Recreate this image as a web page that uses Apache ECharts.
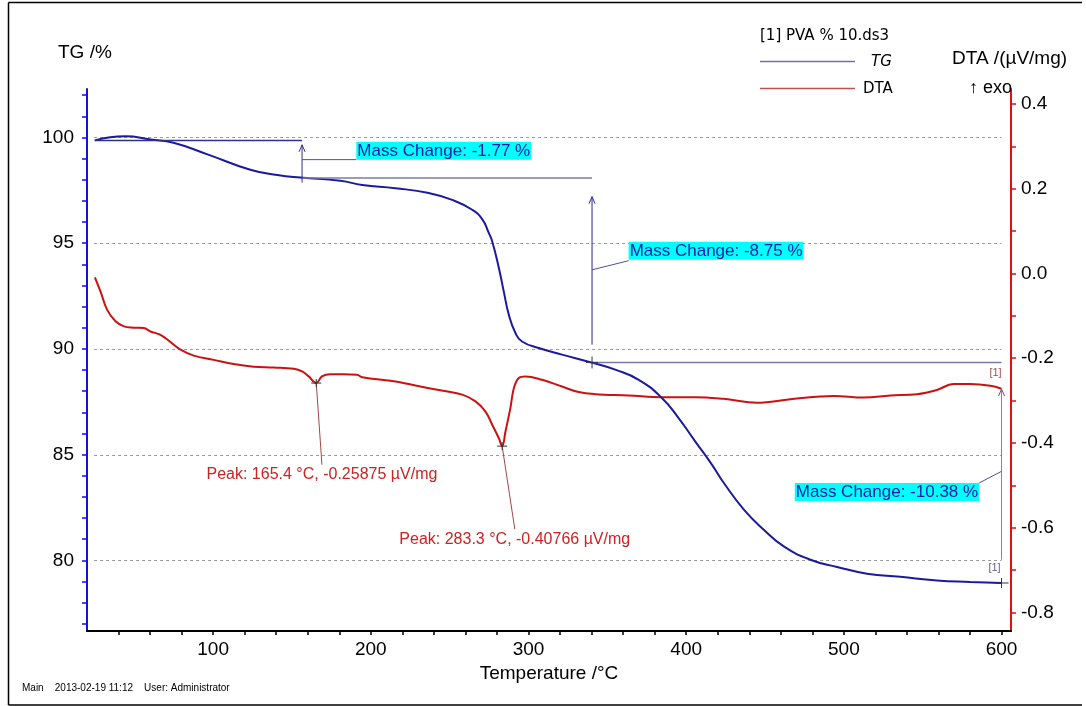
<!DOCTYPE html>
<html>
<head>
<meta charset="utf-8">
<title>TG / DTA</title>
<style>
  html, body { margin: 0; padding: 0; background: #fff; }
  #chart { width: 1086px; height: 706px; }
</style>
<script src="https://cdn.jsdelivr.net/npm/echarts@6/dist/echarts.min.js"></script>
</head>
<body>
<div id="chart"></div>
<script>
// TG curve (temperature in °C, mass in %)
const tgTemp = [24.9, 44.4, 60.3, 74.8, 96.4, 123.6, 140.8, 155.3, 180.7, 194.6, 215.5, 236.8, 251.6, 264.3, 270.5, 274.8, 277, 281.2, 284.3, 287.5, 291.7, 295.9, 306.5, 321.3, 339.8, 355, 369.9, 384.6, 395.2, 405.7, 416.3, 423.9, 436.6, 449.2, 461.9, 478.8, 495.7, 514.7, 535.8, 559, 580.2, 600];
const tgValue = [99.86, 100.05, 99.9, 99.75, 99.2, 98.47, 98.22, 98.1, 97.95, 97.75, 97.6, 97.37, 97.05, 96.58, 96.15, 95.49, 95.08, 93.83, 92.72, 91.62, 90.75, 90.35, 90.04, 89.73, 89.36, 89.02, 88.54, 87.68, 86.73, 85.63, 84.53, 83.66, 82.4, 81.45, 80.66, 80.03, 79.69, 79.37, 79.22, 79.05, 78.98, 78.93];

// DTA curve (µV/mg)
const dtaTemp = [25, 28.6, 32.8, 38.1, 43.4, 49.7, 56, 60.3, 66.6, 73, 79.3, 87.7, 100.4, 113, 125.7, 138.4, 151.1, 156.4, 160.6, 165.4, 169, 174.3, 182.7, 191.2, 194.6, 215.7, 236.8, 257.9, 266.4, 272.7, 277, 281.2, 283.3, 285.4, 288.5, 290.7, 293.8, 298, 308.6, 321.3, 331.8, 342.4, 363.5, 384.6, 405.7, 423.7, 445, 466.1, 493.6, 512.6, 529.5, 546.4, 559, 569.6, 580.2, 592.9, 600];
const dtaValue = [-0.009, -0.043, -0.086, -0.113, -0.125, -0.128, -0.129, -0.137, -0.145, -0.162, -0.18, -0.194, -0.204, -0.214, -0.22, -0.222, -0.225, -0.231, -0.243, -0.25875, -0.243, -0.238, -0.238, -0.239, -0.245, -0.255, -0.271, -0.286, -0.302, -0.326, -0.357, -0.389, -0.40766, -0.373, -0.318, -0.271, -0.247, -0.243, -0.251, -0.267, -0.28, -0.285, -0.288, -0.292, -0.292, -0.296, -0.305, -0.297, -0.289, -0.293, -0.288, -0.285, -0.275, -0.261, -0.261, -0.265, -0.272];

// ticks and labels
const xTicks = [100, 200, 300, 400, 500, 600];
const xMinor = [40, 60, 80, 100, 120, 140, 160, 180, 200, 220, 240, 260, 280, 300, 320, 340, 360, 380, 400, 420, 440, 460, 480, 500, 520, 540, 560, 580, 600];
const tgTicks = [80, 85, 90, 95, 100];
const tgMinor = [77, 78, 79, 80, 81, 82, 83, 84, 85, 86, 87, 88, 89, 90, 91, 92, 93, 94, 95, 96, 97, 98, 99, 100, 101, 102];
const dtaTicks = [-0.8, -0.6, -0.4, -0.2, 0, 0.2, 0.4];
const dtaMinor = [-0.8, -0.7, -0.6, -0.5, -0.4, -0.3, -0.2, -0.1, 0, 0.1, 0.2, 0.3, 0.4];

// evaluation results
const massSteps = [
  { tStart: 24.9, tEnd: 156.4, from: 99.86, to: 98.08, text: 'Mass Change: -1.77 %' },
  { tStart: 156.4, tEnd: 340.3, from: 98.08, to: 89.36, text: 'Mass Change: -8.75 %' },
  { tStart: 340.3, tEnd: 600, from: 89.36, to: 78.93, text: 'Mass Change: -10.38 %' }
];
const peaks = [
  { t: 165.4, v: -0.25875 },
  { t: 283.3, v: -0.40766 }
];

const font = 'Arial, "Liberation Sans", sans-serif';
const chart = echarts.init(document.getElementById('chart'));

chart.setOption({
  animation: false,
  grid: { left: 87, right: 75, top: 89, bottom: 75 },
  xAxis: {
    type: 'value', min: 20, max: 606,
    name: 'Temperature /°C', nameLocation: 'middle', nameGap: 32,
    nameTextStyle: { fontSize: 19, color: '#000', fontFamily: font },
    axisLine: { onZero: false, lineStyle: { color: '#000', width: 2 } },
    axisTick: { show: true, customValues: xMinor, length: 4, lineStyle: { color: '#000', width: 1.5 } },
    axisLabel: { customValues: xTicks, fontSize: 19, color: '#000', fontFamily: font, margin: 9 },
    splitLine: { show: false }
  },
  yAxis: [
    {
      type: 'value', min: 76.66, max: 102.29, position: 'left',
      axisLine: { show: true, onZero: false, lineStyle: { color: '#1212dd', width: 2 } },
      axisTick: { show: true, customValues: tgMinor, length: 5, lineStyle: { color: '#1212dd', width: 1.5 } },
      axisLabel: { customValues: tgTicks, fontSize: 19, color: '#000', fontFamily: font, margin: 13 },
      splitLine: { show: false }
    },
    {
      type: 'value', min: -0.844, max: 0.4354, position: 'right',
      axisLine: { show: true, onZero: false, lineStyle: { color: '#dd1111', width: 2 } },
      axisTick: { show: true, customValues: dtaMinor, length: 5, lineStyle: { color: '#dd1111', width: 1.5 } },
      axisLabel: {
        customValues: dtaTicks, fontSize: 19, color: '#000', fontFamily: font, margin: 10,
        formatter: v => v.toFixed(1)
      },
      splitLine: { show: false }
    }
  ],
  series: [
    {
      name: 'TG', type: 'line', yAxisIndex: 0, showSymbol: false, smooth: 0.5, z: 4,
      lineStyle: { color: '#1a1aa0', width: 2 },
      data: tgTemp.map((t, i) => [t, tgValue[i]])
    },
    {
      name: 'DTA', type: 'line', yAxisIndex: 1, showSymbol: false, smooth: 0.4, z: 3,
      lineStyle: { color: '#cc1111', width: 2 },
      data: dtaTemp.map((t, i) => [t, dtaValue[i]])
    }
  ]
});

const P = (t, v) => chart.convertToPixel({ seriesIndex: 0 }, [t, v]);
const Q = (t, v) => chart.convertToPixel({ seriesIndex: 1 }, [t, v]);

const els = [];
const line = (a, b, color, width, extra) => els.push({
  type: 'line', z: 10,
  shape: { x1: a[0], y1: a[1], x2: b[0], y2: b[1] },
  style: Object.assign({ stroke: color, lineWidth: width || 1 }, extra || {})
});
const text = (x, y, str, st) => els.push({
  type: 'text', x: x, y: y, z: 20,
  style: Object.assign({ text: str, fontFamily: font, fill: '#000', verticalAlign: 'middle' }, st)
});
const arrowUp = (p, color) => els.push({
  type: 'polyline', z: 10,
  shape: { points: [[p[0] - 3, p[1] + 7], [p[0], p[1]], [p[0] + 3, p[1] + 7]] },
  style: { stroke: color, lineWidth: 1, fill: null }
});
const cross = (p, hx, hy, color) => {
  line([p[0] - hx, p[1]], [p[0] + hx, p[1]], color, 1);
  line([p[0], p[1] - hy], [p[0], p[1] + hy], color, 1);
};

// frame
line([8.5, 2.5], [1082, 2.5], '#000', 1.5);
line([8.5, 2.5], [8.5, 705], '#000', 1.5);
line([8.5, 705], [1082, 705], '#000', 1.5);

// dashed grid lines on TG axis
tgTicks.forEach(v => {
  const a = P(24.5, v), b = P(600, v);
  els.push({
    type: 'line', z: 1,
    shape: { x1: a[0], y1: Math.round(a[1]) + 0.5, x2: b[0], y2: Math.round(b[1]) + 0.5 },
    style: { stroke: '#9a9a9a', lineWidth: 1, lineDash: [3, 3] }
  });
});

// mass change steps
const s0 = massSteps[0], s1 = massSteps[1], s2 = massSteps[2];
line(P(s0.tStart, s0.from), P(s0.tEnd, s0.from), '#30308a', 1.5);
line(P(s1.tStart, s1.from), P(s1.tEnd, s1.from), '#7a7aa6', 1.5);
line(P(s2.tStart, s2.from), P(s2.tEnd, s2.from), '#7a7aa6', 1.5);

// vertical arrows
line(P(s0.tEnd, 97.86), P(s0.tEnd, 99.65), '#30308a', 1);
arrowUp(P(s0.tEnd, 99.65), '#30308a');
line(P(s1.tEnd, 90.2), P(s1.tEnd, 97.2), '#2a2a90', 1);
arrowUp(P(s1.tEnd, 97.2), '#2a2a90');
cross(P(s1.tEnd, s1.to), 6, 6, '#303060');
line(P(s2.tEnd, 80.03), P(s2.tEnd, 88.1), '#8080b0', 1);
arrowUp(P(s2.tEnd, 88.1), '#5a5aa0');
cross(P(s2.tEnd, s2.to), 7, 5, '#303050');

// mass change labels
const boxStyle = { fontSize: 17, fill: '#1a1ab0', backgroundColor: '#00ffff', padding: [1, 1, 0, 1] };
let a = P(s0.tEnd, 98.95), b = P(190.8, 98.95);
line(a, b, '#505090', 1);
text(b[0], b[1], s0.text, Object.assign({ verticalAlign: 'bottom' }, boxStyle));
a = P(s1.tEnd, 93.74); b = P(363.5, 94.17);
line(a, b, '#505090', 1);
text(b[0], b[1] - 1, s1.text, Object.assign({ verticalAlign: 'bottom' }, boxStyle));
a = P(s2.tEnd, 84.21); b = P(585.8, 83.66);
line(a, b, '#505090', 1);
text(b[0], b[1], s2.text, Object.assign({ verticalAlign: 'top', align: 'right' }, boxStyle));

// peaks
const leaderEnds = [[169, -0.4517], [291.3, -0.6035]];
peaks.forEach((pk, i) => {
  const p = Q(pk.t, pk.v), e = Q(leaderEnds[i][0], leaderEnds[i][1]);
  line(p, e, '#a04848', 1);
  cross(p, 5, 4, '#333');
  text(e[0], e[1] + 2, 'Peak: ' + pk.t + ' °C, ' + pk.v + ' µV/mg',
    { fontSize: 16, fill: '#cc2222', align: 'center', verticalAlign: 'top' });
});

// curve tags
const rEnd = Q(dtaTemp[dtaTemp.length - 1], dtaValue[dtaValue.length - 1]);
text(rEnd[0] - 6, rEnd[1] - 16, '[1]', { fontSize: 11, fill: '#a05050', align: 'center' });
const bEnd = P(tgTemp[tgTemp.length - 1], tgValue[tgValue.length - 1]);
text(bEnd[0] - 7, bEnd[1] - 15, '[1]', { fontSize: 11, fill: '#6060a0', align: 'center' });

// axis titles
text(58, 53, 'TG /%', { fontSize: 19 });
text(952, 59, 'DTA /(µV/mg)', { fontSize: 19 });
text(969, 88, '↑ exo', { fontSize: 18 });

// legend
const legendFont = '"DejaVu Sans", sans-serif';
text(760, 36, '[1] PVA % 10.ds3', { fontSize: 15, fontFamily: legendFont });
line([760, 61.5], [855, 61.5], '#7070a8', 1.5);
text(871, 62, 'TG', { fontSize: 15, fontFamily: legendFont, fontStyle: 'italic' });
line([760, 88.5], [855, 88.5], '#c05050', 1.5);
text(863, 89, 'DTA', { fontSize: 15, fontFamily: legendFont });

// footer
text(22, 688, 'Main    2013-02-19 11:12    User: Administrator', { fontSize: 10 });

chart.setOption({ graphic: { elements: els } });
</script>
</body>
</html>
